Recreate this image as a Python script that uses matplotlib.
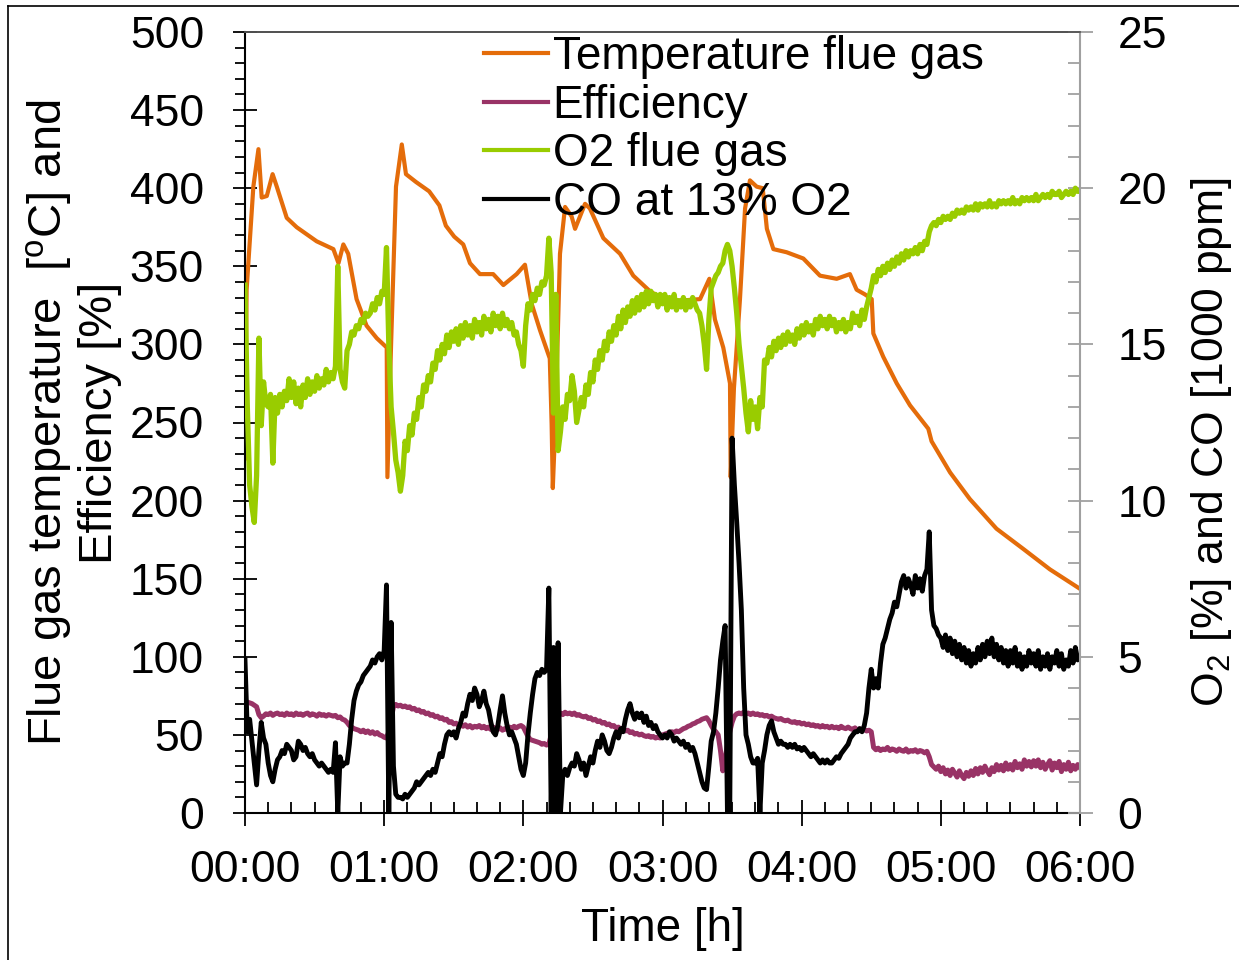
import numpy as np
import matplotlib
matplotlib.use('Agg')
import matplotlib.pyplot as plt
from matplotlib.lines import Line2D
from matplotlib.ticker import MultipleLocator, FuncFormatter

plt.rcParams['font.family'] = ['Liberation Sans', 'DejaVu Sans']
plt.rcParams['mathtext.fontset'] = 'custom'
plt.rcParams['mathtext.rm'] = 'Liberation Sans'
plt.rcParams['mathtext.it'] = 'Liberation Sans:italic'

##### data (time in minutes from 00:00)
temp_t = [0, 0.7, 3.6, 5.8, 7.2, 9.4, 11.9, 13.7, 18, 22.3, 30.9, 38.1, 40.3, 42.4, 44.5, 48.1, 52.4,
          56.8, 61.1, 61.4, 63, 65.1, 67.6, 69.4, 73.7, 79.4, 83.8, 86.6, 90.2, 94.1, 97, 101.3, 107,
          111.4, 117.1, 120.7, 123.6, 127.2, 131.4, 132.2, 132.7, 133.8, 135.8, 138, 140.8, 142.3,
          146.6, 148.7, 154.5, 161.7, 167.4, 174.6, 180.4, 187.6, 196.2, 200.2, 202.6, 206.2, 209.1,
          209.4, 210.8, 213.4, 215.6, 217.7, 220.6, 223.2, 225, 227.8, 233.5, 240.7, 247.9, 255.1,
          260.8, 263.7, 267.3, 270.2, 270.9, 275.2, 281, 286.7, 294.6, 296, 304, 312.5, 324, 335.6,
          347, 360]
temp_v = [227, 335, 401, 425, 394, 395, 409, 401, 381, 375, 366, 361, 352, 364, 358, 329, 312,
          304, 298, 215, 301, 401, 428, 409, 404, 398, 389, 376, 369, 364, 352, 345, 345,
          338, 345, 351, 326, 309, 291, 249, 208, 249, 358, 388, 382, 374,
          390, 387, 368, 358, 344, 334, 329, 328, 329, 342, 316, 298, 275,
          215, 272, 329, 387, 405, 401, 400, 374, 361, 359, 355, 344, 342,
          345, 335, 332, 329, 307, 292, 275, 261, 246, 238, 218, 201, 182, 169,
          156, 143.5]

minutes = list(range(0, 361))

eff = [72, 71, 70.5, 70, 69, 68, 63, 61, 62, 63.5,
       63, 64, 62.5, 63.5, 64, 63, 63.5, 62.5, 64, 63,
       63.5, 62.5, 64, 63, 63.5, 62.5, 63.5, 64, 62.5, 63.5,
       63, 62, 63.5, 62.5, 63, 62, 63, 62.5, 62, 62.5,
       61, 61.5, 60, 59.5, 58, 56, 55, 54, 53.5, 53,
       52, 53, 51.5, 52.5, 51, 52, 50.5, 51.5, 50, 49.5,
       48.5, 48, 52, 60, 68, 69.5, 68.5, 69, 68, 68.5,
       67.5, 68, 66.5, 67, 65.5, 66, 64.5, 65, 63.5, 64,
       62.5, 63, 61.5, 62, 60.5, 61, 59.5, 60, 58, 58.5,
       57, 57.5, 56, 56.5, 55.5, 56.5, 55, 56, 54.5, 55.5,
       55, 56, 54.5, 55.5, 54, 55, 53.5, 55, 54, 53.5,
       54.5, 53, 54, 53.5, 55, 54, 55.5, 54.5, 55.5, 56,
       55, 52, 49, 47, 46.5, 46, 45.5, 45, 44, 44.5,
       43.5, 44, 50, 57, 62, 63.5, 64, 63, 64.5, 63.5,
       64, 63, 64, 62.5, 63, 62, 61.5, 62, 60.5, 61,
       59.5, 60, 58.5, 59, 57.5, 58, 56.5, 57, 55.5, 56,
       54.5, 55, 53.5, 54, 52.5, 53, 51.5, 52, 50.5, 51,
       50, 50.5, 49.5, 49, 49.5, 48.5, 49, 48, 48.5, 48,
       50, 50.5, 51, 51.5, 52, 51.5, 52.5, 52, 53, 54,
       54.5, 55.5, 56, 57, 57.5, 58.5, 59, 60, 60.5, 61,
       59, 56, 53.5, 52, 50, 40, 27, 35, 43.5, 52,
       58, 62, 63.5, 64, 63.5, 64.5, 63.5, 64, 63, 64,
       63, 63.5, 62.5, 63, 62, 62.5, 61.5, 62, 61, 60.5,
       60, 60.5, 59.5, 59, 59.5, 58.5, 58, 58.5, 57.5, 58,
       57, 57.5, 56.5, 57, 56, 56.5, 55.5, 56, 55, 56,
       55, 55.5, 54.5, 55.5, 54.5, 55, 54, 55.5, 54.5, 54,
       55, 54, 53.5, 54.5, 53, 54, 53, 53.5, 52.5, 53,
       52, 42, 40.5, 41.5, 40, 41, 40.5, 42, 40, 41,
       40.5, 39.5, 41, 40, 39.5, 41, 39, 40, 39.5, 40.5,
       39, 40, 39.5, 38.5, 39.5, 36, 31, 29.5, 28, 30,
       26.5, 29, 25, 27.5, 24, 28, 25.5, 23, 27, 24,
       22, 26, 23.5, 27, 24, 28.5, 25, 29, 26, 30,
       27, 24.5, 29, 26.5, 31, 27.5, 30.5, 27, 32, 28,
       31, 27.5, 33, 29, 31.5, 28, 34, 30, 33, 29.5,
       33.5, 30, 34, 29, 32.5, 28, 31, 33.5, 27.5, 32,
       29, 33, 26.5, 31, 28, 32.5, 27, 30.5, 28, 31,
       29]

o2 = [16.9, 13.0, 10.5, 9.8, 9.3, 10.8, 15.2, 12.4, 13.8, 13.1,
      13.0, 13.4, 11.2, 13.3, 12.8, 13.4, 13.0, 13.5, 13.2, 13.9,
      13.3, 13.8, 13.1, 13.6, 13.0, 13.7, 13.3, 13.9, 13.4, 13.8,
      13.5, 14.0, 13.6, 13.9, 13.7, 14.2, 13.8, 14.1, 13.9, 14.3,
      17.5, 14.2, 13.8, 13.6, 14.8, 15.0, 15.4, 15.3, 15.6, 15.5,
      15.8, 15.7, 16.0, 15.9, 16.0, 16.3, 16.1, 16.5, 16.3, 16.7,
      16.6, 18.1, 15.0, 13.0, 12.2, 11.3, 10.9, 10.3, 10.8, 11.9,
      11.6, 12.4, 12.1, 12.8, 12.6, 13.3, 13.0, 13.7, 13.5, 14.0,
      13.8, 14.4, 14.2, 14.8, 14.5, 15.0, 14.7, 15.3, 14.9, 15.4,
      15.1, 15.5, 15.0, 15.6, 15.2, 15.7, 15.3, 15.6, 15.2, 15.8,
      15.4, 15.7, 15.3, 15.9, 15.5, 15.8, 15.4, 16.0, 15.6, 15.9,
      15.5, 16.0, 15.6, 15.8, 15.5, 15.7, 15.3, 15.4, 15.0, 14.8,
      14.3, 15.6, 16.3, 16.1, 16.6, 16.4, 16.8, 16.6, 17.0, 16.9,
      17.2, 18.4, 17.3, 12.8, 16.6, 11.6, 12.2, 13.0, 12.6, 13.4,
      13.2, 14.0, 13.5, 12.5, 12.9, 13.3, 13.0, 13.7, 13.4, 14.1,
      13.8, 14.5, 14.2, 14.8, 14.5, 15.1, 14.8, 15.4, 15.1, 15.6,
      15.3, 15.9, 15.5, 16.1, 15.7, 16.2, 15.9, 16.4, 16.0, 16.5,
      16.1, 16.6, 16.2, 16.7, 16.3, 16.7, 16.4, 16.6, 16.2, 16.6,
      16.3, 16.6, 16.1, 16.5, 16.2, 16.6, 16.1, 16.4, 16.2, 16.5,
      16.1, 16.4, 16.2, 16.5, 16.3, 16.1, 16.0, 15.6, 15.0, 14.2,
      15.8, 16.8, 17.0, 17.2, 17.3, 17.5, 17.6, 18.0, 18.2, 18.0,
      17.5, 16.8, 16.0, 15.0, 14.3, 13.6, 12.8, 12.2, 13.2, 12.6,
      13.0, 12.3, 13.3, 13.0, 14.5, 14.4, 14.9, 14.6, 15.1, 14.8,
      15.2, 14.9, 15.3, 15.0, 15.4, 15.1, 15.3, 15.0, 15.5, 15.2,
      15.6, 15.3, 15.7, 15.4, 15.6, 15.3, 15.8, 15.5, 15.9, 15.6,
      15.8, 15.5, 15.9, 15.6, 15.8, 15.4, 15.7, 15.5, 15.8, 15.4,
      15.7, 15.5, 16.0, 15.7, 15.9, 15.6, 16.1, 15.8, 16.2, 16.5,
      16.8, 17.2, 17.0, 17.4, 17.2, 17.5, 17.3, 17.6, 17.4, 17.7,
      17.5, 17.8, 17.6, 17.9, 17.7, 18.0, 17.8, 18.0, 17.9, 18.1,
      17.9, 18.2, 18.0, 18.3, 18.2, 18.6, 18.8, 18.9, 18.8, 19.0,
      18.9, 19.1, 19.0, 19.1, 19.0, 19.2, 19.1, 19.3, 19.2, 19.3,
      19.2, 19.4, 19.3, 19.4, 19.3, 19.5, 19.3, 19.5, 19.4, 19.5,
      19.4, 19.6, 19.4, 19.5, 19.4, 19.6, 19.5, 19.6, 19.5, 19.6,
      19.5, 19.7, 19.5, 19.6, 19.5, 19.7, 19.6, 19.7, 19.6, 19.7,
      19.6, 19.8, 19.6, 19.7, 19.8, 19.7, 19.8, 19.7, 19.9, 19.8,
      19.8, 19.9, 19.7, 19.8, 19.9, 19.8, 19.9, 19.8, 20.0, 19.9,
      19.9]

co = [4.9, 2.6, 3.0, 2.3, 1.6, 0.9, 2.0, 2.9, 2.4, 2.2,
      1.6, 1.2, 1.0, 1.4, 1.7, 1.8, 2.0, 1.9, 2.2, 2.1,
      2.0, 1.7, 1.8, 2.3, 2.2, 2.0, 2.1, 1.9, 1.8, 1.9,
      1.7, 1.6, 1.5, 1.6, 1.5, 1.4, 1.3, 1.4, 1.3, 2.25,
      0.0, 1.8, 1.5, 1.6, 1.6, 2.2, 3.0, 3.6, 3.9, 4.1,
      4.2, 4.4, 4.5, 4.6, 4.7, 4.9, 4.8, 5.0, 5.1, 4.9,
      5.2, 7.3, 0.0, 6.1, 1.5, 0.6, 0.5, 0.5, 0.45, 0.6,
      0.5, 0.6, 0.7, 0.8, 1.0, 0.9, 1.0, 1.1, 1.2, 1.3,
      1.2, 1.4, 1.3, 1.6, 1.9, 1.8, 2.2, 2.5, 2.6, 2.5,
      2.6, 2.4, 2.7, 2.9, 3.2, 3.1, 3.5, 3.8, 3.6, 4.0,
      3.8, 3.4, 3.6, 3.9, 3.5, 3.3, 2.9, 2.6, 2.5, 2.8,
      3.3, 3.75, 3.2, 2.8, 2.5, 2.6, 2.4, 2.2, 1.8, 1.4,
      1.2, 1.6, 2.5, 3.2, 3.8, 4.3, 4.5, 4.4, 4.6, 4.5,
      4.6, 7.2, 0.0, 5.3, 0.0, 5.45, 0.0, 1.2, 1.4, 1.2,
      1.45, 1.6, 1.5, 1.9, 1.7, 1.4, 1.6, 1.2, 1.5, 1.8,
      1.6, 2.0, 2.3, 2.1, 2.5, 2.3, 2.0, 1.9, 2.1, 2.4,
      2.6, 2.4, 2.7, 2.6, 3.0, 3.3, 3.5, 3.2, 3.0, 3.2,
      3.05, 3.2, 2.9, 3.1, 2.8, 2.9, 2.7, 2.8, 2.6, 2.5,
      2.4, 2.5, 2.4, 2.6, 2.5, 2.3, 2.4, 2.3, 2.2, 2.3,
      2.1, 2.2, 2.0, 2.1, 1.9, 1.6, 1.3, 1.0, 0.8, 0.75,
      1.5, 2.3, 2.6, 3.2, 4.0, 4.9, 5.5, 6.0, 0.0, 0.0,
      12.0, 10.5, 9.3, 8.0, 6.5, 4.0, 2.5, 2.2, 1.8, 1.6,
      1.6, 1.75, 0.0, 1.6, 2.0, 2.5, 2.8, 2.95, 2.6, 2.4,
      2.2, 2.3, 2.2, 2.2, 2.1, 2.2, 2.1, 2.2, 2.05, 2.1,
      2.0, 2.1, 2.0, 1.9, 1.8, 1.9, 1.8, 1.7, 1.6, 1.7,
      1.6, 1.7, 1.6, 1.6, 1.7, 1.8, 1.75, 1.9, 2.0, 2.1,
      2.2, 2.4, 2.5, 2.6, 2.6, 2.7, 2.6, 2.8, 3.2, 4.0,
      4.6, 4.0, 4.3, 4.0, 4.8, 5.4, 5.6, 5.9, 6.2, 6.4,
      6.75, 6.6, 7.0, 7.4, 7.6, 7.2, 7.5, 7.3, 7.0, 7.6,
      7.2, 7.5, 7.1, 7.6, 7.8, 9.0, 6.5, 6.0, 5.9, 5.7,
      5.6, 5.3, 5.7, 5.2, 5.6, 5.1, 5.5, 5.0, 5.4, 4.9,
      5.3, 4.8, 5.2, 4.7, 5.1, 4.8, 5.3, 4.9, 5.4, 5.0,
      5.5, 5.1, 5.6, 5.0, 5.4, 4.9, 5.3, 4.8, 5.2, 4.7,
      5.2, 4.8, 5.3, 4.7, 5.1, 4.6, 5.0, 4.7, 5.2, 4.8,
      5.1, 4.7, 5.2, 4.6, 5.0, 4.7, 5.1, 4.6, 5.0, 4.8,
      5.2, 4.7, 5.1, 4.6, 4.9, 4.7, 5.2, 4.8, 5.3, 4.9,
      5.0]

hour_labels = ['00:00', '01:00', '02:00', '03:00', '04:00', '05:00', '06:00']

c_temp = '#E46C0A'
c_eff = '#993366'
c_o2 = '#99CC00'
c_co = '#000000'

fig = plt.figure(figsize=(12.39, 9.6), dpi=100)
ax = fig.add_axes([245/1239, 1-813/960, (1080-245)/1239, (813-32)/960])
ax2 = ax.twinx()

l1, = ax.plot(temp_t, temp_v, color=c_temp, lw=3.0, label='Temperature flue gas')
l2, = ax.plot(minutes, eff, color=c_eff, lw=3.6, label='Efficiency')
l3, = ax2.plot(minutes, o2, color=c_o2, lw=3.8, label='O2 flue gas')
l4, = ax2.plot(minutes, co, color=c_co, lw=3.5, label='CO at 13% O2')

ax.set_xlim(0, 360)
ax.set_ylim(0, 500)
ax2.set_ylim(0, 25)

ax.xaxis.set_major_locator(MultipleLocator(60))
ax.xaxis.set_minor_locator(MultipleLocator(10))
ax.xaxis.set_major_formatter(FuncFormatter(lambda v, p: hour_labels[int(round(v / 60))] if 0 <= round(v / 60) < 7 else ''))
ax.yaxis.set_major_locator(MultipleLocator(50))
ax.yaxis.set_minor_locator(MultipleLocator(10))
ax2.yaxis.set_major_locator(MultipleLocator(5))
ax2.yaxis.set_minor_locator(MultipleLocator(1))

fs = 32
ax.tick_params(axis='x', which='major', direction='inout', length=19, width=1.3, labelsize=fs, pad=17)
ax.tick_params(axis='x', which='minor', direction='in', length=8, width=1.3)
ax.tick_params(axis='y', which='major', direction='inout', length=17, width=1.3, labelsize=fs, pad=21)
ax.tick_params(axis='y', which='minor', direction='out', length=7, width=1.3)
ax2.tick_params(axis='y', which='major', direction='inout', length=18, width=1.3, labelsize=fs, pad=18,
                color='#A0A0A0')
ax2.tick_params(axis='y', which='minor', direction='in', length=9, width=1.3, color='#A0A0A0')

for a in (ax, ax2):
    a.spines['top'].set_color('#505050')
    a.spines['top'].set_linewidth(1.2)
ax.spines['left'].set_linewidth(1.5)
ax.spines['bottom'].set_linewidth(1.5)
ax.spines['right'].set_visible(False)
ax2.spines['left'].set_visible(False)
ax2.spines['bottom'].set_visible(False)
ax2.spines['right'].set_color('#A0A0A0')
ax2.spines['right'].set_linewidth(1.5)

ax.set_xlabel('Time [h]', fontsize=33, labelpad=12)
ax.set_ylabel('Flue gas temperature  [$^{\\mathrm{o}}$C] and\nEfficiency [%]', fontsize=34,
              linespacing=1.12)
ax.yaxis.set_label_coords(-0.147, 0.5)
ax2.set_ylabel('O$_2$ [%] and CO [1000 ppm]', fontsize=32)
ax2.yaxis.set_label_coords(1.131, 0.475)

leg = ax2.legend(handles=[l1, l2, l3, l4], loc='upper left', bbox_to_anchor=(484/1239, 1-35/960),
                 bbox_transform=fig.transFigure, frameon=False, fontsize=33, borderpad=0,
                 handlelength=1.4, handletextpad=0.1, labelspacing=0.1, borderaxespad=0)
for h in leg.legend_handles:
    h.set_linewidth(3.0)

# figure border (cropped at right and bottom)
fig.add_artist(Line2D([8/1239, 8/1239], [0, 1-6/960], transform=fig.transFigure, color='black', lw=1.2))
fig.add_artist(Line2D([8/1239, 1], [1-6/960, 1-6/960], transform=fig.transFigure, color='black', lw=1.2))

fig.savefig('out.png', dpi=100)
